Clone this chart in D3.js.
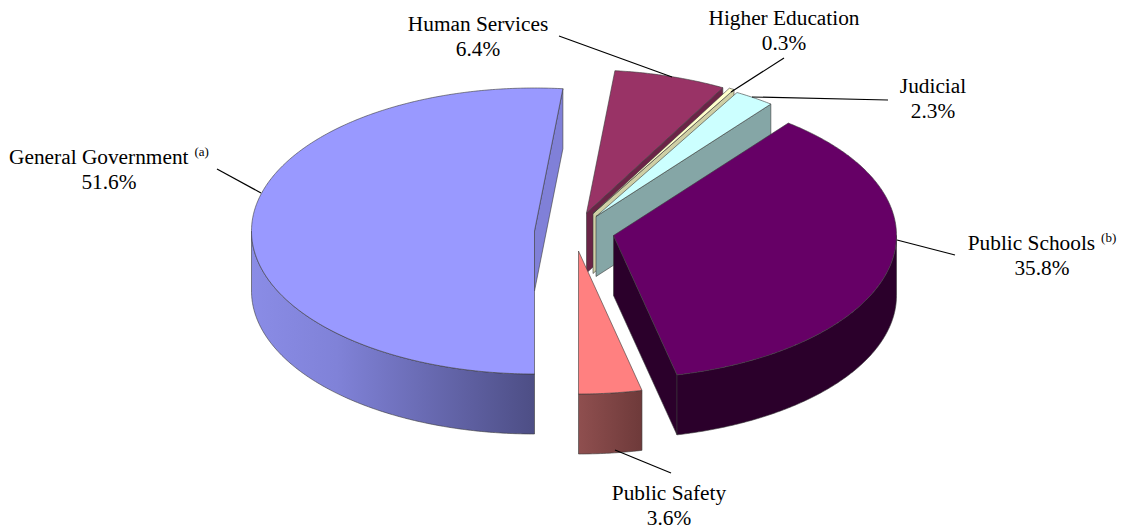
<!DOCTYPE html>
<html><head><meta charset="utf-8">
<script src="https://cdn.jsdelivr.net/npm/d3@7/dist/d3.min.js"></script>
<style>html,body{margin:0;padding:0;background:#fff}svg{display:block}text{font-family:"Liberation Serif","Times New Roman",serif;fill:#000}</style>
</head><body><svg id="c" width="1121" height="529"></svg>
<script>
const categories=["General Government","Human Services","Higher Education","Judicial","Public Schools","Public Safety"];
const shares=[51.6,6.4,0.3,2.3,35.8,3.6];
const notes=["(a)","","","","(b)",""];
const topColors=["#9999ff","#993366","#ffffcc","#ccffff","#660066","#ff8080"];
const cutColors=["#8080d8","#6b2447","#cfcfa5","#85a6a6","#2b002b","#a85a5a"];
const wallColors=[["#8a8ce6","#4d4e85"],["#6b2447","#6b2447"],["#b8b894","#b8b894"],["#85a6a6","#85a6a6"],["#2b002b","#2b002b"],["#8f4f4f","#6e3a3a"]];
const centers=[[534.5,231],[586.5,213],[593,213.5],[596,216.5],[613.5,235.5],[578.5,251]];
const labelPos=[[109,164],[478,31],[784,25],[933,93],[1042,250],[669,500]];
const leaders=[[[217,169],[261,193]],[[559,36],[672,77]],[[784,58],[731,92]],[[888,100],[752,97]],[[897,240],[955,255]],[[615,450],[671,473]]];
const rx=283, ry=143, depth=60;

const svg=d3.select("#c");
const defs=svg.append("defs");
const arcs=d3.pie().sort(null).startAngle(Math.PI).endAngle(3*Math.PI)(shares);
const sx=d3.scaleLinear().domain([-1,1]).range([-rx,rx]);
const sy=d3.scaleLinear().domain([-1,1]).range([ry,-ry]);
const pt=(c,t,d=0)=>[c[0]+sx(Math.sin(t)),c[1]+sy(Math.cos(t))+d];
const line=d3.line();
const samples=(a,b)=>{const n=Math.max(2,Math.ceil((b-a)/0.01));return d3.range(n+1).map(i=>a+(b-a)*i/n);};
const edge="#3a3a3a";
const TAU=2*Math.PI;

arcs.forEach((a,i)=>{
  const c=centers[i];
  const shift=a.startAngle>=TAU-1e-6?TAU:0;
  const t0=a.startAngle-shift, t1=a.endAngle-shift;
  const g=svg.append("g");
  const ap=[c[0],c[1]], apD=[c[0],c[1]+depth];
  const face=(t,col)=>g.append("path").attr("d",line([ap,pt(c,t),pt(c,t,depth),apD])+"Z")
      .attr("fill",col).attr("stroke",edge).attr("stroke-width",.6);
  const wall=()=>{
    const lo=Math.max(t0,Math.PI/2), hi=Math.min(t1,3*Math.PI/2);
    if(hi<=lo) return;
    const s=samples(lo,hi);
    const id="w"+i;
    const grad=defs.append("linearGradient").attr("id",id).attr("x1",0).attr("x2",1).attr("y1",0).attr("y2",0);
    grad.append("stop").attr("offset",0).attr("stop-color",wallColors[i][0]);
    if(i===0) grad.append("stop").attr("offset",.3).attr("stop-color","#8082d8");
    grad.append("stop").attr("offset",1).attr("stop-color",wallColors[i][1]);
    g.append("path").attr("d",line([...s.map(t=>pt(c,t)),...s.slice().reverse().map(t=>pt(c,t,depth))])+"Z")
      .attr("fill",`url(#${id})`).attr("stroke",edge).attr("stroke-width",.6);
  };
  if(i===0){ wall(); face(t1,cutColors[i]); }
  else if(i===5){ wall(); }
  else { face(t1,cutColors[i]); wall(); }
  g.append("path").attr("d",line([ap,...samples(t0,t1).map(t=>pt(c,t))])+"Z")
    .attr("fill",topColors[i]).attr("stroke",edge).attr("stroke-width",.6).attr("stroke-linejoin","round");
});

leaders.forEach(l=>svg.append("path").attr("d",line(l)).attr("stroke","#000").attr("stroke-width",1.2).attr("fill","none"));

const fmt=d3.format(".1f");
categories.forEach((n,i)=>{
  const [x,y]=labelPos[i];
  const t=svg.append("text").attr("x",x).attr("y",y).attr("text-anchor","middle").attr("font-size",21.33);
  t.append("tspan").text(n);
  if(notes[i]) t.append("tspan").attr("font-size",13).attr("dy",-8).attr("dx",6).text(notes[i]);
  svg.append("text").attr("x",x).attr("y",y+25).attr("text-anchor","middle").attr("font-size",21.33).text(fmt(shares[i])+"%");
});
</script></body></html>
